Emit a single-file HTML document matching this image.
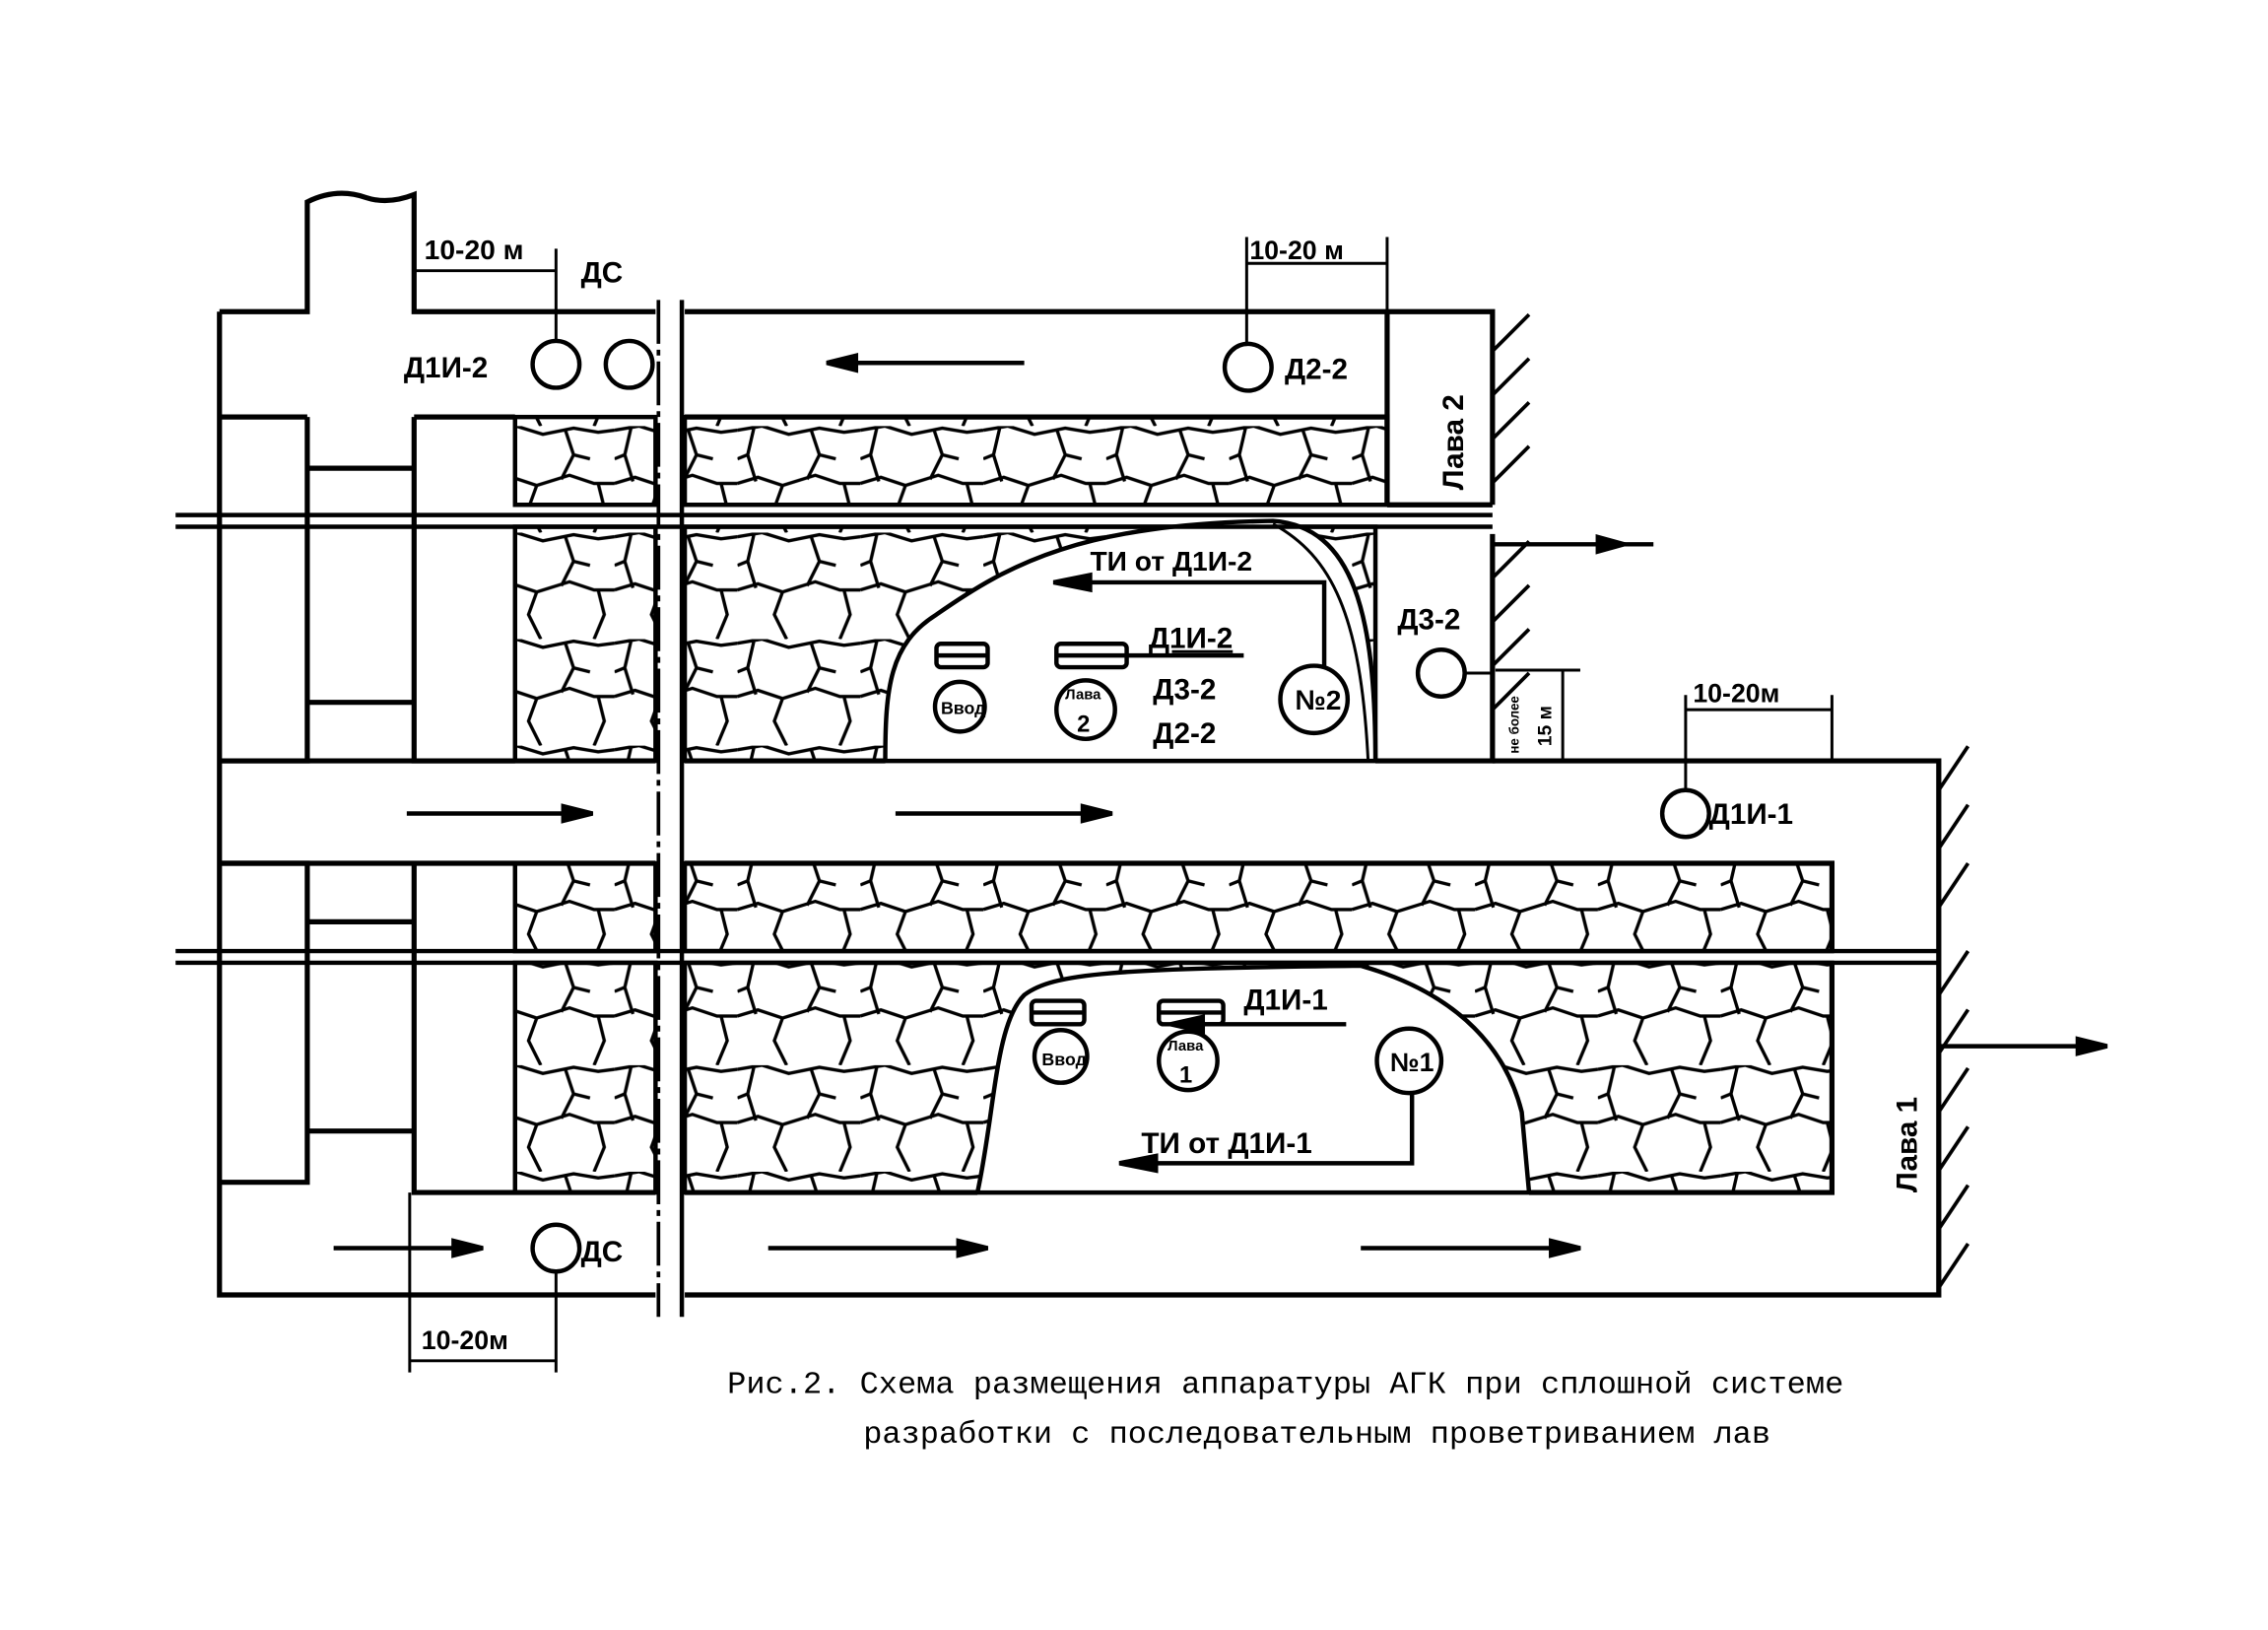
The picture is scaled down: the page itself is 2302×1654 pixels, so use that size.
<!DOCTYPE html>
<html><head><meta charset="utf-8"><style>
html,body{margin:0;padding:0;background:#fff;}
svg{display:block;}
text{font-family:"Liberation Sans",sans-serif;font-weight:bold;fill:#000;}
.c{font-family:"Liberation Mono",monospace;font-weight:normal;}
</style></head><body>
<svg width="2302" height="1654" viewBox="0 0 1550 1114" preserveAspectRatio="none" xmlns="http://www.w3.org/2000/svg">
<defs>
<pattern id="st" width="60" height="52" patternUnits="userSpaceOnUse" patternTransform="scale(1.4)">
<path d="M0,2 L12,0 L25,4 L40,1 L52,3 L60,2 M0,28 L10,25 L22,29 L38,24 L50,28 L60,28 M8,1 L5,14 L9,27 M36,2 L40,14 L34,26 M22,29 L18,40 L24,52 M52,28 L55,40 L50,52 M5,14 L0,16 M40,14 L48,16" fill="none" stroke="#000" stroke-width="1.6"/>
</pattern>
</defs>
<rect width="1550" height="1114" fill="#fff"/>
<g fill="url(#st)" stroke="#000" stroke-width="3">
<rect x="352" y="285" width="96" height="60"/>
<rect x="468" y="285" width="480" height="60"/>
<rect x="352" y="360" width="96" height="160"/>
<rect x="468" y="360" width="472" height="160"/>
<rect x="352" y="590" width="96" height="60"/>
<rect x="468" y="590" width="784" height="60"/>
<rect x="352" y="658" width="96" height="157"/>
<rect x="468" y="658" width="784" height="157"/>
</g>
<path d="M605,520 C605,470 608,440 640,420 C690,385 740,358 870,356 C925,360 940,420 940,520 Z" fill="#fff" stroke="#000" stroke-width="3"/>
<path d="M870,358 C910,380 930,420 935,520" fill="none" stroke="#000" stroke-width="2"/>
<path d="M668,815 C680,760 680,700 700,680 C720,665 760,662 930,660 C1000,680 1030,720 1040,760 L1045,815 Z" fill="#fff" stroke="#000" stroke-width="3"/>
<g fill="none" stroke="#000" stroke-width="3.5">
<path d="M150,213 L150,885 L448,885"/>
<path d="M150,213 L210,213 L210,138 Q230,128 250,135 Q265,140 283,133 L283,213 L448,213"/>
<path d="M468,213 L1020,213 L1020,345"/>
<path d="M468,285 L948,285 L948,345 M150,285 L210,285 M283,285 L352,285"/>
<path d="M948,213 L948,345"/>
<path d="M120,352 L1020,352 M120,360 L1020,360" stroke-width="3"/>
<path d="M120,650 L1325,650 M120,658 L1325,658" stroke-width="3"/>
<path d="M450,205 L450,900" stroke-width="2.5" stroke-dasharray="30,4,4,4"/>
<path d="M466,205 L466,900" stroke-width="3"/>
<path d="M210,285 L210,520 L150,520 M283,285 L283,520 L352,520 M210,320 L283,320 M210,480 L283,480"/>
<path d="M150,590 L210,590 L210,808 L150,808 M283,590 L283,815 L448,815 M210,630 L283,630 M210,773 L283,773"/>
<path d="M448,520 L150,520"/>
<path d="M150,590 L448,590"/>
<path d="M940,520 L1020,520 L1020,365"/>
<path d="M1020,520 L1325,520 L1325,885 L468,885"/>
<path d="M468,520 L605,520 M468,590 L1252,590 L1252,650 M468,815 L668,815 M1045,815 L1252,815 L1252,658"/>
<path d="M1020,345 L948,345"/>
</g>
<g stroke="#000" stroke-width="2.5">
<path d="M1020,240 L1045,215 M1020,270 L1045,245 M1020,300 L1045,275 M1020,330 L1045,305"/>
<path d="M1020,395 L1045,370 M1020,425 L1045,400 M1020,455 L1045,430 M1020,485 L1045,460"/>
<path d="M1325,540 L1345,510 M1325,580 L1345,550 M1325,620 L1345,590 M1325,680 L1345,650 M1325,720 L1345,690 M1325,760 L1345,730 M1325,800 L1345,770 M1325,840 L1345,810 M1325,880 L1345,850"/>
</g>
<g stroke="#000" stroke-width="3" fill="#000">
<path d="M565,248 L700,248" fill="none"/><path d="M565,248 L585,243 L585,253Z"/>
<path d="M278,556 L405,556" fill="none"/><path d="M405,556 L385,551 L385,561Z"/>
<path d="M612,556 L760,556" fill="none"/><path d="M760,556 L740,551 L740,561Z"/>
<path d="M228,853 L330,853" fill="none"/><path d="M330,853 L310,848 L310,858Z"/>
<path d="M525,853 L675,853" fill="none"/><path d="M675,853 L655,848 L655,858Z"/>
<path d="M930,853 L1080,853" fill="none"/><path d="M1080,853 L1060,848 L1060,858Z"/>
<path d="M1020,372 L1130,372" fill="none"/><path d="M1110,372 L1092,367 L1092,377Z"/>
<path d="M1325,715 L1440,715" fill="none"/><path d="M1440,715 L1420,710 L1420,720Z"/>
<path d="M905,455 L905,398 L720,398" fill="none"/><path d="M720,398 L745,393 L745,403Z"/>
<path d="M920,700 L800,700" fill="none"/><path d="M800,700 L822,695 L822,705Z"/>
<path d="M965,748 L965,795 L765,795" fill="none"/><path d="M765,795 L790,790 L790,800Z"/>
</g>
<g stroke="#000" stroke-width="2" fill="none">
<path d="M283,185 L380,185 M380,170 L380,232"/>
<path d="M852,180 L948,180 M852,162 L852,235 M948,162 L948,213"/>
<path d="M1152,485 L1252,485 M1152,475 L1152,540 M1252,475 L1252,520"/>
<path d="M280,930 L380,930 M280,815 L280,938 M380,870 L380,938"/>
<path d="M1068,458 L1068,520 M1022,458 L1080,458 M1000,460 L1020,460"/>
</g>
<g fill="none" stroke="#000" stroke-width="3">
<circle cx="380" cy="249" r="16"/><circle cx="430" cy="249" r="16"/>
<circle cx="853" cy="251" r="16"/><circle cx="985" cy="460" r="16"/>
<circle cx="1152" cy="556" r="16"/><circle cx="380" cy="853" r="16"/>
<circle cx="656" cy="483" r="17"/><circle cx="742" cy="485" r="20"/>
<circle cx="898" cy="478" r="23"/>
<circle cx="725" cy="722" r="18"/><circle cx="812" cy="725" r="20"/>
<circle cx="963" cy="725" r="22"/>
<rect x="640" y="440" width="35" height="16" rx="3"/><path d="M640,448 L675,448"/>
<rect x="722" y="440" width="48" height="16" rx="3"/><path d="M722,448 L770,448 M770,448 L850,448"/>
<rect x="705" y="684" width="36" height="16" rx="3"/><path d="M705,692 L741,692"/>
<rect x="792" y="684" width="44" height="16" rx="3"/><path d="M792,692 L836,692"/>
</g>
<g font-size="20">
<text x="290" y="177" font-size="19">10-20 м</text>
<text x="397" y="193">ДС</text>
<text x="276" y="258">Д1И-2</text>
<text x="878" y="259">Д2-2</text>
<text x="854" y="177" font-size="18">10-20 м</text>
<text x="1000" y="335" transform="rotate(-90 1000 335)">Лава 2</text>
<text x="745" y="390" font-size="19">ТИ от Д1И-2</text>
<text x="785" y="443" text-decoration="underline">Д1И-2</text>
<text x="788" y="478">Д3-2</text>
<text x="788" y="508">Д2-2</text>
<text x="885" y="485" font-size="19">№2</text>
<text x="955" y="430">Д3-2</text>
<text x="1157" y="480" font-size="18">10-20м</text>
<text x="1168" y="563">Д1И-1</text>
<text x="1038" y="515" font-size="9" transform="rotate(-90 1038 515)">не более</text>
<text x="1060" y="510" font-size="13" transform="rotate(-90 1060 510)">15 м</text>
<text x="643" y="488" font-size="12">Ввод</text>
<text x="728" y="478" font-size="10">Лава</text>
<text x="736" y="500" font-size="16">2</text>
<text x="712" y="728" font-size="12">Ввод</text>
<text x="798" y="718" font-size="10">Лава</text>
<text x="806" y="740" font-size="16">1</text>
<text x="950" y="732" font-size="18">№1</text>
<text x="850" y="690">Д1И-1</text>
<text x="780" y="788">ТИ от Д1И-1</text>
<text x="1310" y="815" transform="rotate(-90 1310 815)">Лава 1</text>
<text x="397" y="862">ДС</text>
<text x="288" y="922" font-size="18">10-20м</text>
</g>
<text class="c" x="497" y="952" font-size="21" textLength="763" lengthAdjust="spacingAndGlyphs">Рис.2. Схема размещения аппаратуры АГК при сплошной системе</text>
<text class="c" x="590" y="986" font-size="21" textLength="620" lengthAdjust="spacingAndGlyphs">разработки с последовательным проветриванием лав</text>
</svg>
</body></html>
